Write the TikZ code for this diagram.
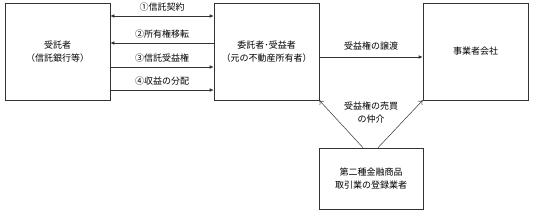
\documentclass[tikz,border=0pt]{standalone}
\usepackage{fontspec}
\setmainfont{Noto Sans CJK JP}
\usetikzlibrary{arrows.meta}
\begin{document}
\begin{tikzpicture}[x=1pt,y=-1pt,font=\fontsize{9}{13}\selectfont,
  party/.style={draw=black!80,line width=0.6pt,minimum width=105pt,align=center,inner sep=0pt},
  flow/.style={draw=black!80,line width=0.6pt,-{Latex[length=4pt,width=3.5pt]}},
  broker/.style={draw=black!80,line width=0.5pt,-{To[length=4pt,width=6pt]}}]
  \useasboundingbox (0,0) rectangle (533,213);
  % the four parties
  \node[party,minimum height=97pt] (trustee) at (57.5,51.5) {受託者\\（信託銀行等）};
  \node[party,minimum height=97pt] (settlor) at (266.5,51.5) {委託者･受益者\\（元の不動産所有者）};
  \node[party,minimum height=97pt] (company) at (475.5,51.5) {事業者会社};
  \node[party,minimum width=104pt,minimum height=61pt] (dealer) at (371,178.5) {第二種金融商品\\取引業の登録業者};
  % trust contract flows
  \draw[flow,{Latex[length=4pt,width=3.5pt]}-{Latex[length=4pt,width=3.5pt]}] (trustee.east |- 0,16) -- node[above=1pt] (contract) {①信託契約} (settlor.west |- 0,16);
  \draw[flow,{Latex[length=4pt,width=3.5pt]}-] (trustee.east |- 0,43) -- node[above=1pt] (title) {②所有権移転} (settlor.west |- 0,43);
  \draw[flow] (trustee.east |- 0,67) -- node[above=1pt] (beneficial) {③信託受益権} (settlor.west |- 0,67);
  \draw[flow] (trustee.east |- 0,90) -- node[above=1pt] (dividend) {④収益の分配} (settlor.west |- 0,90);
  % transfer and brokerage
  \draw[flow] (settlor.east |- 0,57) -- node[above=3pt] (transfer) {受益権の譲渡} (company.west |- 0,57);
  \draw[broker] (dealer.north -| 363,0) -- (settlor.south east);
  \draw[broker] (dealer.north -| 378,0) -- (company.south west);
  \node[align=center] (brokerage) at (371,113) {受益権の売買\\の仲介};
\end{tikzpicture}
\end{document}
